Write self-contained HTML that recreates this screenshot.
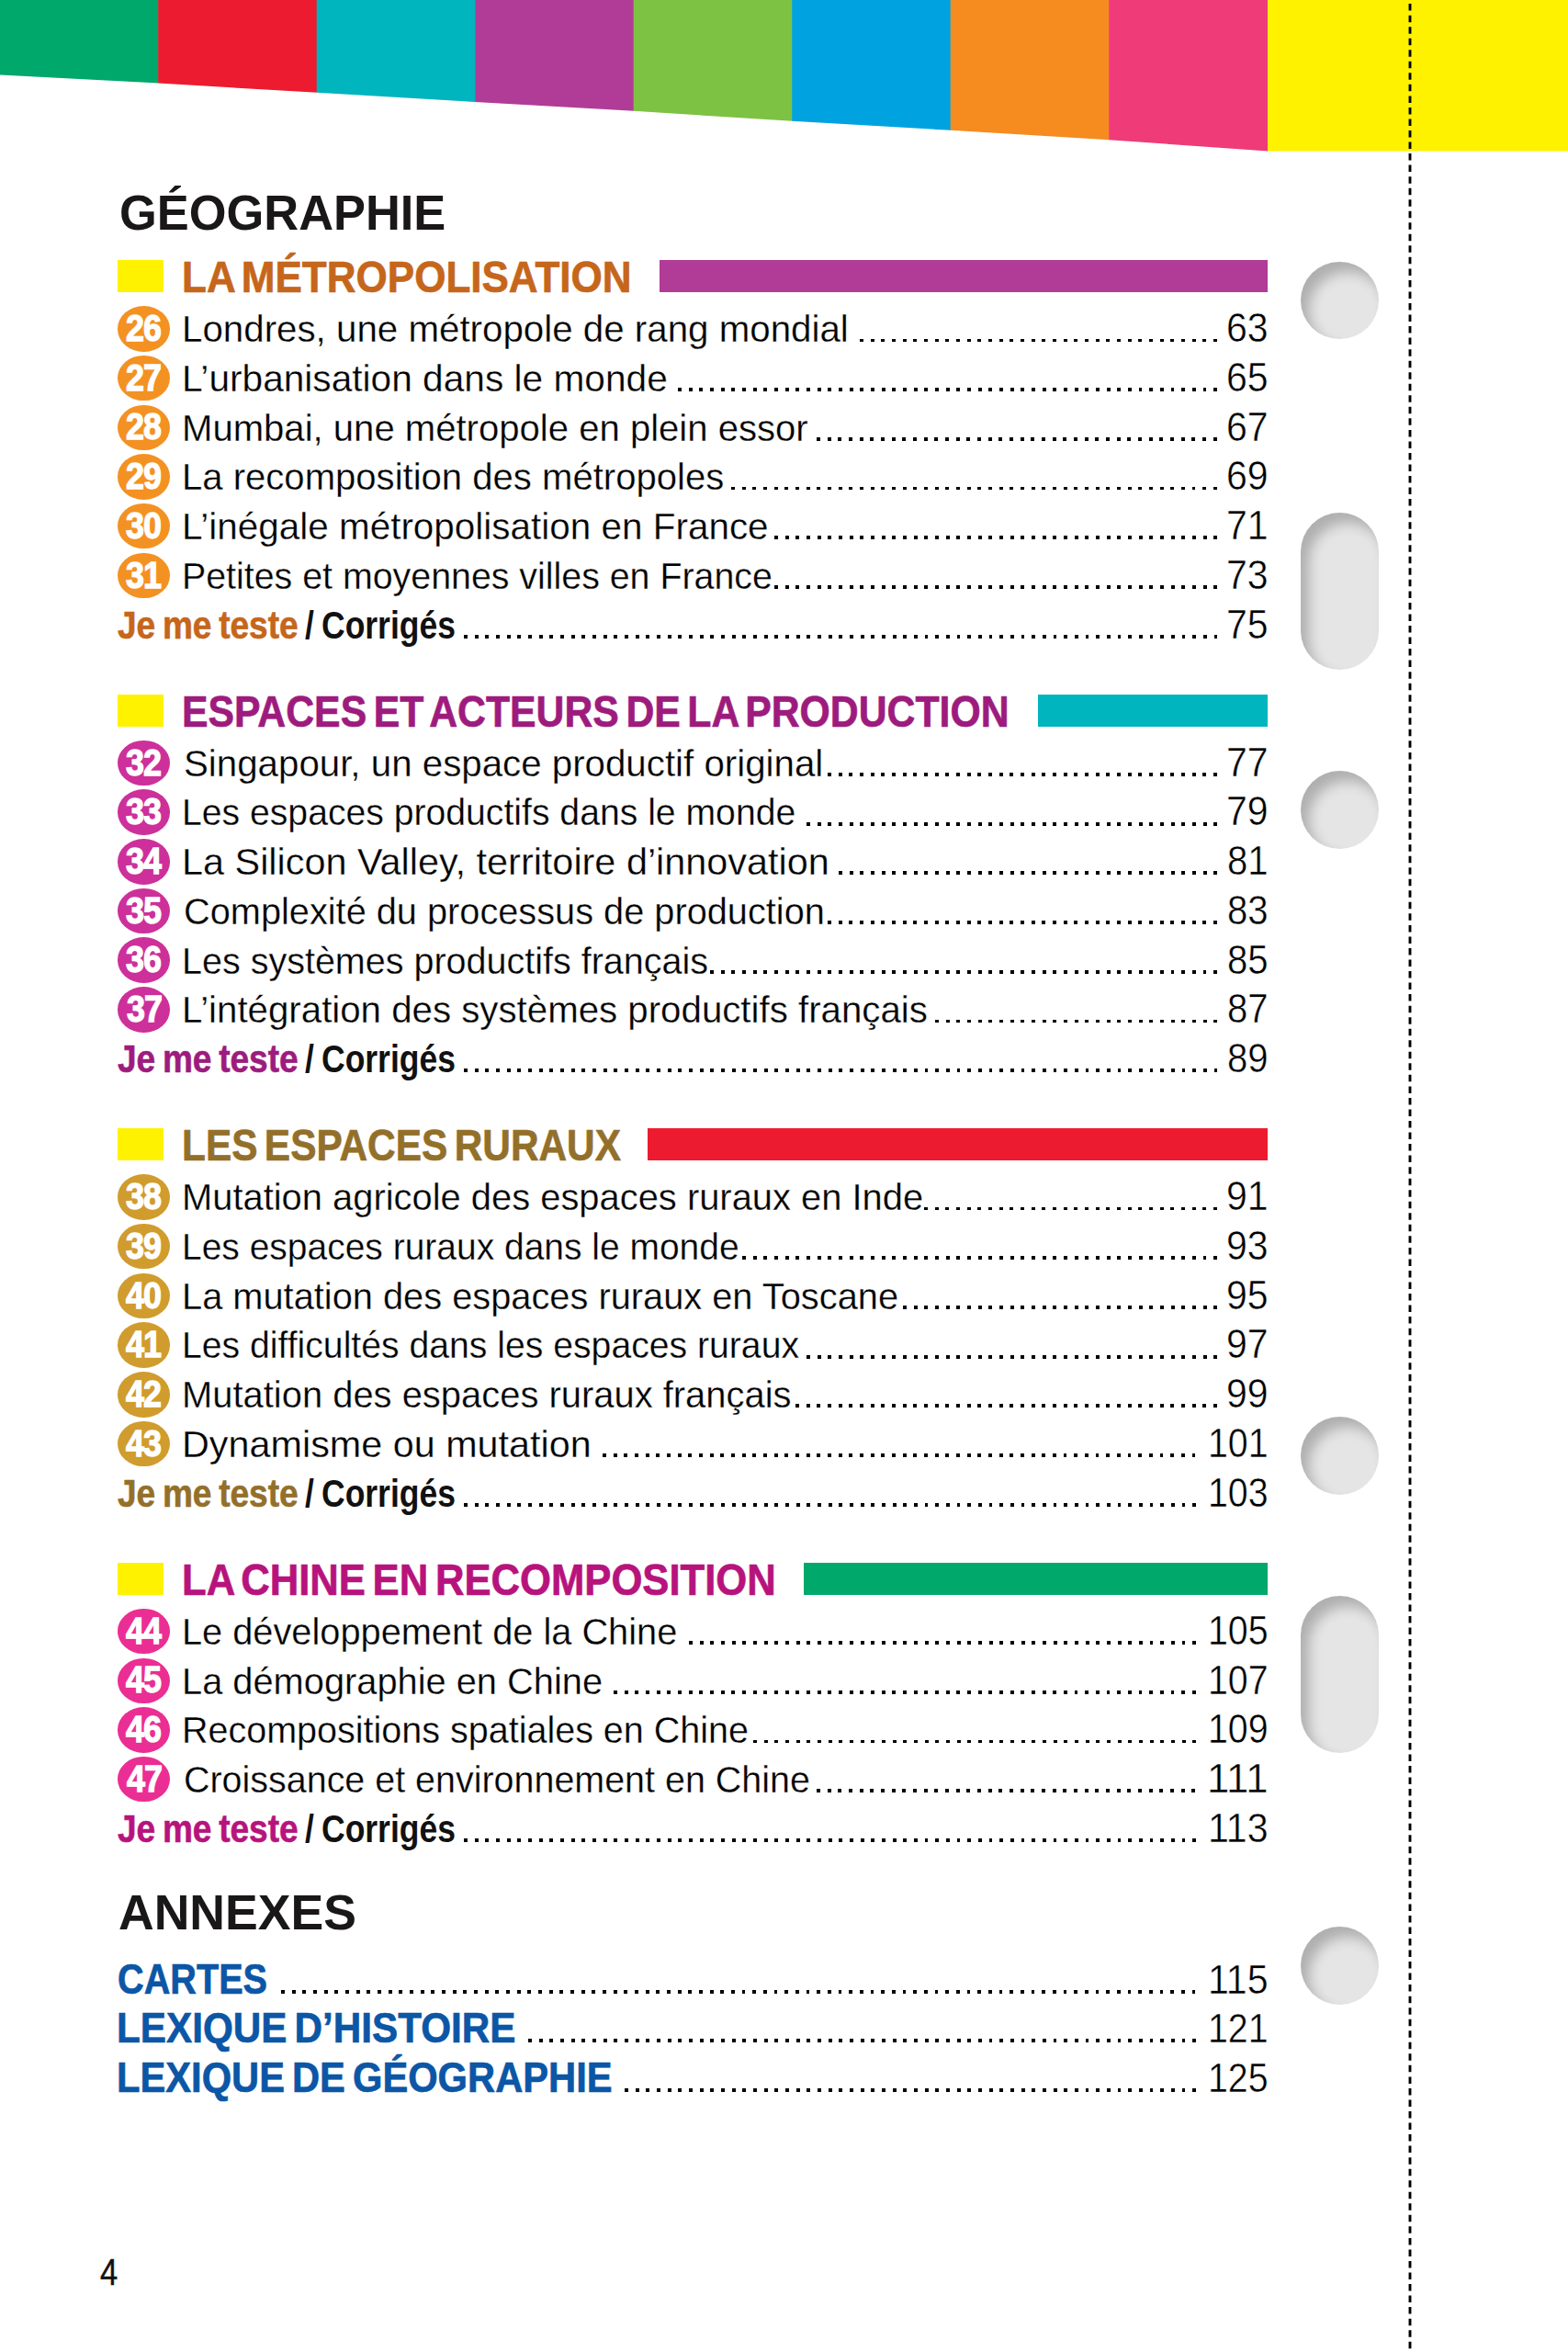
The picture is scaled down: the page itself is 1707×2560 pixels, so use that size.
<!DOCTYPE html><html lang="fr"><head><meta charset="utf-8"><title>Sommaire</title><style>
html,body{margin:0;padding:0;background:#fff;}
html{overflow:hidden;}
body{width:1707px;height:2560px;position:relative;overflow:hidden;font-family:"Liberation Sans",sans-serif;color:#000;}
.a{position:absolute;white-space:nowrap;line-height:1;}
.s{display:inline-block;transform-origin:0 0;}
.hole{position:absolute;left:1415.8px;width:84.8px;background:#e5e5e5;border-radius:42.4px;box-shadow:inset 9px 11px 14px rgba(0,0,0,0.24);}
.bar{position:absolute;height:35.3px;}
.ysq{position:absolute;left:128.3px;width:49.8px;height:35.3px;background:#fff200;}
.badge{position:absolute;left:128.2px;width:56.6px;height:49.5px;border-radius:50%;}
.dots{position:absolute;height:3.8px;background:repeating-linear-gradient(to right,#000 0,#000 3.9px,transparent 3.9px,transparent 11.665px);}
</style></head><body>
<svg class="a" style="left:0;top:0" width="1707" height="2560" viewBox="0 0 1707 2560"><polygon points="-0.3,0 172.8,0 172.8,90.60 -0.3,81.60" fill="#00a86b"/><polygon points="172.2,0 345.3,0 345.3,100.80 172.2,90.60" fill="#ed1b2f"/><polygon points="344.7,0 517.8,0 517.8,111.00 344.7,100.80" fill="#00b5be"/><polygon points="517.2,0 690.3,0 690.3,120.80 517.2,111.00" fill="#b13c97"/><polygon points="689.7,0 862.8,0 862.8,131.80 689.7,120.80" fill="#7dc243"/><polygon points="862.2,0 1035.3,0 1035.3,141.80 862.2,131.80" fill="#00a3e0"/><polygon points="1034.7,0 1207.8,0 1207.8,152.30 1034.7,141.80" fill="#f68b1f"/><polygon points="1207.2,0 1380.3,0 1380.3,164.50 1207.2,152.30" fill="#ef3b78"/><rect x="1380" y="0" width="327" height="164.5" fill="#fff200"/><line x1="1535" y1="4.1" x2="1535" y2="2560" stroke="#000" stroke-width="2.9" stroke-dasharray="7.5 5.035"/></svg>
<div class="hole" style="top:284.5px;height:84.8px"></div>
<div class="hole" style="top:558px;height:171px"></div>
<div class="hole" style="top:839px;height:84.8px"></div>
<div class="hole" style="top:1542px;height:84.8px"></div>
<div class="hole" style="top:1737px;height:171.3px"></div>
<div class="hole" style="top:2096.8px;height:84.8px"></div>
<div class="ysq" style="top:283.1px"></div>
<div class="bar" style="left:718.4px;top:283.1px;width:661.6px;background:#b13c97"></div>
<div class="ysq" style="top:755.6px"></div>
<div class="bar" style="left:1129.5px;top:755.6px;width:250.5px;background:#00b5be"></div>
<div class="ysq" style="top:1228.2px"></div>
<div class="bar" style="left:704.8px;top:1228.2px;width:675.2px;background:#ed1b2f"></div>
<div class="ysq" style="top:1700.8px"></div>
<div class="bar" style="left:875px;top:1700.8px;width:505.0px;background:#00a96b"></div>
<div class="badge" style="top:333.10px;background:#f39222"></div>
<div class="badge" style="top:386.82px;background:#f39222"></div>
<div class="badge" style="top:440.54px;background:#f39222"></div>
<div class="badge" style="top:494.26px;background:#f39222"></div>
<div class="badge" style="top:547.98px;background:#f39222"></div>
<div class="badge" style="top:601.70px;background:#f39222"></div>
<div class="badge" style="top:805.60px;background:#cd309a"></div>
<div class="badge" style="top:859.32px;background:#cd309a"></div>
<div class="badge" style="top:913.04px;background:#cd309a"></div>
<div class="badge" style="top:966.76px;background:#cd309a"></div>
<div class="badge" style="top:1020.48px;background:#cd309a"></div>
<div class="badge" style="top:1074.20px;background:#cd309a"></div>
<div class="badge" style="top:1278.20px;background:#d09c2e"></div>
<div class="badge" style="top:1331.92px;background:#d09c2e"></div>
<div class="badge" style="top:1385.64px;background:#d09c2e"></div>
<div class="badge" style="top:1439.36px;background:#d09c2e"></div>
<div class="badge" style="top:1493.08px;background:#d09c2e"></div>
<div class="badge" style="top:1546.80px;background:#d09c2e"></div>
<div class="badge" style="top:1750.80px;background:#eb2e93"></div>
<div class="badge" style="top:1804.52px;background:#eb2e93"></div>
<div class="badge" style="top:1858.24px;background:#eb2e93"></div>
<div class="badge" style="top:1911.96px;background:#eb2e93"></div>
<div class="dots" style="left:936.15px;top:368.50px;width:388.85px"></div>
<div class="dots" style="left:737.85px;top:422.22px;width:587.15px"></div>
<div class="dots" style="left:889.49px;top:475.94px;width:435.51px"></div>
<div class="dots" style="left:796.17px;top:529.66px;width:528.83px"></div>
<div class="dots" style="left:842.83px;top:583.38px;width:482.17px"></div>
<div class="dots" style="left:842.83px;top:637.10px;width:482.17px"></div>
<div class="dots" style="left:504.55px;top:690.82px;width:820.45px"></div>
<div class="dots" style="left:901.16px;top:841.00px;width:423.84px"></div>
<div class="dots" style="left:877.83px;top:894.72px;width:447.17px"></div>
<div class="dots" style="left:912.82px;top:948.44px;width:412.18px"></div>
<div class="dots" style="left:901.16px;top:1002.16px;width:423.84px"></div>
<div class="dots" style="left:772.84px;top:1055.88px;width:552.16px"></div>
<div class="dots" style="left:1017.81px;top:1109.60px;width:307.19px"></div>
<div class="dots" style="left:504.55px;top:1163.32px;width:820.45px"></div>
<div class="dots" style="left:1006.14px;top:1313.60px;width:318.86px"></div>
<div class="dots" style="left:807.84px;top:1367.32px;width:517.16px"></div>
<div class="dots" style="left:982.81px;top:1421.04px;width:342.19px"></div>
<div class="dots" style="left:877.83px;top:1474.76px;width:447.17px"></div>
<div class="dots" style="left:866.16px;top:1528.48px;width:458.84px"></div>
<div class="dots" style="left:656.19px;top:1582.20px;width:645.48px"></div>
<div class="dots" style="left:504.55px;top:1635.92px;width:797.12px"></div>
<div class="dots" style="left:749.51px;top:1786.20px;width:552.16px"></div>
<div class="dots" style="left:667.86px;top:1839.92px;width:633.81px"></div>
<div class="dots" style="left:819.50px;top:1893.64px;width:482.17px"></div>
<div class="dots" style="left:889.49px;top:1947.36px;width:412.18px"></div>
<div class="dots" style="left:504.55px;top:2001.08px;width:797.12px"></div>
<div class="dots" style="left:306.25px;top:2165.80px;width:995.43px"></div>
<div class="dots" style="left:574.54px;top:2219.00px;width:727.13px"></div>
<div class="dots" style="left:679.52px;top:2272.90px;width:622.15px"></div>
<div class="a" style="left:129.76px;top:204px;font-size:54px;font-weight:700;color:#1a1718;"><span class="s" style="transform:scaleX(0.9707)">GÉOGRAPHIE</span></div>
<div class="a" style="left:129.42px;top:2054px;font-size:54px;font-weight:700;color:#1a1718;"><span class="s" style="transform:scaleX(0.9918)">ANNEXES</span></div>
<div class="a" style="left:197.80px;top:277px;font-size:49px;font-weight:700;color:#c5661b;word-spacing:-5px;-webkit-text-stroke:0.7px currentColor;"><span class="s" style="transform:scaleX(0.8985)">LA MÉTROPOLISATION</span></div>
<div class="a" style="left:136.75px;top:337px;font-size:40px;font-weight:700;color:#fff;letter-spacing:-1px;-webkit-text-stroke:1.3px currentColor;"><span class="s" style="transform:scaleX(0.8976)">26</span></div>
<div class="a" style="left:197.67px;top:338px;font-size:41.0px;font-weight:400;color:#000;-webkit-text-stroke:0.3px #fff;"><span class="s" style="transform:scaleX(0.9828)">Londres, une métropole de rang mondial</span></div>
<div class="a" style="left:1335.27px;top:334px;font-size:45px;font-weight:400;color:#000;-webkit-text-stroke:0.5px #fff;"><span class="s" style="transform:scaleX(0.9111)">63</span></div>
<div class="a" style="left:137.20px;top:391px;font-size:40px;font-weight:700;color:#fff;letter-spacing:-1px;-webkit-text-stroke:1.3px currentColor;"><span class="s" style="transform:scaleX(0.8976)">27</span></div>
<div class="a" style="left:197.63px;top:392px;font-size:41.0px;font-weight:400;color:#000;-webkit-text-stroke:0.3px #fff;"><span class="s" style="transform:scaleX(0.9913)">L’urbanisation dans le monde</span></div>
<div class="a" style="left:1335.27px;top:388px;font-size:45px;font-weight:400;color:#000;-webkit-text-stroke:0.5px #fff;"><span class="s" style="transform:scaleX(0.9111)">65</span></div>
<div class="a" style="left:136.75px;top:444px;font-size:40px;font-weight:700;color:#fff;letter-spacing:-1px;-webkit-text-stroke:1.3px currentColor;"><span class="s" style="transform:scaleX(0.8976)">28</span></div>
<div class="a" style="left:197.69px;top:446px;font-size:41.0px;font-weight:400;color:#000;-webkit-text-stroke:0.3px #fff;"><span class="s" style="transform:scaleX(0.9775)">Mumbai, une métropole en plein essor</span></div>
<div class="a" style="left:1335.27px;top:442px;font-size:45px;font-weight:400;color:#000;-webkit-text-stroke:0.5px #fff;"><span class="s" style="transform:scaleX(0.9111)">67</span></div>
<div class="a" style="left:136.75px;top:498px;font-size:40px;font-weight:700;color:#fff;letter-spacing:-1px;-webkit-text-stroke:1.3px currentColor;"><span class="s" style="transform:scaleX(0.8976)">29</span></div>
<div class="a" style="left:197.69px;top:499px;font-size:41.0px;font-weight:400;color:#000;-webkit-text-stroke:0.3px #fff;"><span class="s" style="transform:scaleX(0.9773)">La recomposition des métropoles</span></div>
<div class="a" style="left:1335.27px;top:495px;font-size:45px;font-weight:400;color:#000;-webkit-text-stroke:0.5px #fff;"><span class="s" style="transform:scaleX(0.9111)">69</span></div>
<div class="a" style="left:137.20px;top:552px;font-size:40px;font-weight:700;color:#fff;letter-spacing:-1px;-webkit-text-stroke:1.3px currentColor;"><span class="s" style="transform:scaleX(0.8976)">30</span></div>
<div class="a" style="left:197.65px;top:553px;font-size:41.0px;font-weight:400;color:#000;-webkit-text-stroke:0.3px #fff;"><span class="s" style="transform:scaleX(0.9866)">L’inégale métropolisation en France</span></div>
<div class="a" style="left:1335.27px;top:549px;font-size:45px;font-weight:400;color:#000;-webkit-text-stroke:0.5px #fff;"><span class="s" style="transform:scaleX(0.9111)">71</span></div>
<div class="a" style="left:137.20px;top:606px;font-size:40px;font-weight:700;color:#fff;letter-spacing:-1px;-webkit-text-stroke:1.3px currentColor;"><span class="s" style="transform:scaleX(0.8976)">31</span></div>
<div class="a" style="left:197.76px;top:607px;font-size:41.0px;font-weight:400;color:#000;-webkit-text-stroke:0.3px #fff;"><span class="s" style="transform:scaleX(0.9595)">Petites et moyennes villes en France</span></div>
<div class="a" style="left:1335.27px;top:603px;font-size:45px;font-weight:400;color:#000;-webkit-text-stroke:0.5px #fff;"><span class="s" style="transform:scaleX(0.9111)">73</span></div>
<div class="a" style="left:127.82px;top:660px;font-size:42px;font-weight:700;color:#c5661b;word-spacing:-3px;-webkit-text-stroke:0.6px currentColor;"><span class="s" style="transform:scaleX(0.8828)">Je me teste</span></div>
<div class="a" style="left:332.46px;top:660px;font-size:42px;font-weight:700;color:#111;word-spacing:-2px;"><span class="s" style="transform:scaleX(0.8445)">/ Corrigés</span></div>
<div class="a" style="left:1335.27px;top:657px;font-size:45px;font-weight:400;color:#000;-webkit-text-stroke:0.5px #fff;"><span class="s" style="transform:scaleX(0.9111)">75</span></div>
<div class="a" style="left:197.88px;top:750px;font-size:49px;font-weight:700;color:#9e1b7e;word-spacing:-5px;-webkit-text-stroke:0.7px currentColor;"><span class="s" style="transform:scaleX(0.8725)">ESPACES ET ACTEURS DE LA PRODUCTION</span></div>
<div class="a" style="left:137.20px;top:810px;font-size:40px;font-weight:700;color:#fff;letter-spacing:-1px;-webkit-text-stroke:1.3px currentColor;"><span class="s" style="transform:scaleX(0.8976)">32</span></div>
<div class="a" style="left:199.64px;top:811px;font-size:41.0px;font-weight:400;color:#000;-webkit-text-stroke:0.3px #fff;"><span class="s" style="transform:scaleX(0.9822)">Singapour, un espace productif original</span></div>
<div class="a" style="left:1335.27px;top:807px;font-size:45px;font-weight:400;color:#000;-webkit-text-stroke:0.5px #fff;"><span class="s" style="transform:scaleX(0.9111)">77</span></div>
<div class="a" style="left:137.20px;top:863px;font-size:40px;font-weight:700;color:#fff;letter-spacing:-1px;-webkit-text-stroke:1.3px currentColor;"><span class="s" style="transform:scaleX(0.8976)">33</span></div>
<div class="a" style="left:197.78px;top:864px;font-size:41.0px;font-weight:400;color:#000;-webkit-text-stroke:0.3px #fff;"><span class="s" style="transform:scaleX(0.9550)">Les espaces productifs dans le monde</span></div>
<div class="a" style="left:1335.27px;top:860px;font-size:45px;font-weight:400;color:#000;-webkit-text-stroke:0.5px #fff;"><span class="s" style="transform:scaleX(0.9111)">79</span></div>
<div class="a" style="left:136.75px;top:917px;font-size:40px;font-weight:700;color:#fff;letter-spacing:-1px;-webkit-text-stroke:1.3px currentColor;"><span class="s" style="transform:scaleX(0.8976)">34</span></div>
<div class="a" style="left:197.56px;top:918px;font-size:41.0px;font-weight:400;color:#000;-webkit-text-stroke:0.3px #fff;"><span class="s" style="transform:scaleX(1.0096)">La Silicon Valley, territoire d’innovation</span></div>
<div class="a" style="left:1336.22px;top:914px;font-size:45px;font-weight:400;color:#000;-webkit-text-stroke:0.5px #fff;"><span class="s" style="transform:scaleX(0.8913)">81</span></div>
<div class="a" style="left:137.20px;top:971px;font-size:40px;font-weight:700;color:#fff;letter-spacing:-1px;-webkit-text-stroke:1.3px currentColor;"><span class="s" style="transform:scaleX(0.8976)">35</span></div>
<div class="a" style="left:199.66px;top:972px;font-size:41.0px;font-weight:400;color:#000;-webkit-text-stroke:0.3px #fff;"><span class="s" style="transform:scaleX(0.9690)">Complexité du processus de production</span></div>
<div class="a" style="left:1336.22px;top:968px;font-size:45px;font-weight:400;color:#000;-webkit-text-stroke:0.5px #fff;"><span class="s" style="transform:scaleX(0.8913)">83</span></div>
<div class="a" style="left:137.20px;top:1024px;font-size:40px;font-weight:700;color:#fff;letter-spacing:-1px;-webkit-text-stroke:1.3px currentColor;"><span class="s" style="transform:scaleX(0.8976)">36</span></div>
<div class="a" style="left:197.75px;top:1026px;font-size:41.0px;font-weight:400;color:#000;-webkit-text-stroke:0.3px #fff;"><span class="s" style="transform:scaleX(0.9635)">Les systèmes productifs français</span></div>
<div class="a" style="left:1336.22px;top:1022px;font-size:45px;font-weight:400;color:#000;-webkit-text-stroke:0.5px #fff;"><span class="s" style="transform:scaleX(0.8913)">85</span></div>
<div class="a" style="left:137.65px;top:1078px;font-size:40px;font-weight:700;color:#fff;letter-spacing:-1px;-webkit-text-stroke:1.3px currentColor;"><span class="s" style="transform:scaleX(0.8976)">37</span></div>
<div class="a" style="left:197.67px;top:1079px;font-size:41.0px;font-weight:400;color:#000;-webkit-text-stroke:0.3px #fff;"><span class="s" style="transform:scaleX(0.9814)">L’intégration des systèmes productifs français</span></div>
<div class="a" style="left:1336.22px;top:1075px;font-size:45px;font-weight:400;color:#000;-webkit-text-stroke:0.5px #fff;"><span class="s" style="transform:scaleX(0.8913)">87</span></div>
<div class="a" style="left:127.82px;top:1132px;font-size:42px;font-weight:700;color:#9e1b7e;word-spacing:-3px;-webkit-text-stroke:0.6px currentColor;"><span class="s" style="transform:scaleX(0.8828)">Je me teste</span></div>
<div class="a" style="left:332.46px;top:1132px;font-size:42px;font-weight:700;color:#111;word-spacing:-2px;"><span class="s" style="transform:scaleX(0.8445)">/ Corrigés</span></div>
<div class="a" style="left:1336.22px;top:1129px;font-size:45px;font-weight:400;color:#000;-webkit-text-stroke:0.5px #fff;"><span class="s" style="transform:scaleX(0.8913)">89</span></div>
<div class="a" style="left:197.91px;top:1222px;font-size:49px;font-weight:700;color:#93702a;word-spacing:-5px;-webkit-text-stroke:0.7px currentColor;"><span class="s" style="transform:scaleX(0.8648)">LES ESPACES RURAUX</span></div>
<div class="a" style="left:137.20px;top:1282px;font-size:40px;font-weight:700;color:#fff;letter-spacing:-1px;-webkit-text-stroke:1.3px currentColor;"><span class="s" style="transform:scaleX(0.8976)">38</span></div>
<div class="a" style="left:197.71px;top:1283px;font-size:41.0px;font-weight:400;color:#000;-webkit-text-stroke:0.3px #fff;"><span class="s" style="transform:scaleX(0.9729)">Mutation agricole des espaces ruraux en Inde</span></div>
<div class="a" style="left:1335.27px;top:1279px;font-size:45px;font-weight:400;color:#000;-webkit-text-stroke:0.5px #fff;"><span class="s" style="transform:scaleX(0.9111)">91</span></div>
<div class="a" style="left:137.20px;top:1336px;font-size:40px;font-weight:700;color:#fff;letter-spacing:-1px;-webkit-text-stroke:1.3px currentColor;"><span class="s" style="transform:scaleX(0.8976)">39</span></div>
<div class="a" style="left:197.80px;top:1337px;font-size:41.0px;font-weight:400;color:#000;-webkit-text-stroke:0.3px #fff;"><span class="s" style="transform:scaleX(0.9506)">Les espaces ruraux dans le monde</span></div>
<div class="a" style="left:1335.27px;top:1333px;font-size:45px;font-weight:400;color:#000;-webkit-text-stroke:0.5px #fff;"><span class="s" style="transform:scaleX(0.9111)">93</span></div>
<div class="a" style="left:137.20px;top:1390px;font-size:40px;font-weight:700;color:#fff;letter-spacing:-1px;-webkit-text-stroke:1.3px currentColor;"><span class="s" style="transform:scaleX(0.8976)">40</span></div>
<div class="a" style="left:197.72px;top:1391px;font-size:41.0px;font-weight:400;color:#000;-webkit-text-stroke:0.3px #fff;"><span class="s" style="transform:scaleX(0.9704)">La mutation des espaces ruraux en Toscane</span></div>
<div class="a" style="left:1335.27px;top:1387px;font-size:45px;font-weight:400;color:#000;-webkit-text-stroke:0.5px #fff;"><span class="s" style="transform:scaleX(0.9111)">95</span></div>
<div class="a" style="left:137.20px;top:1443px;font-size:40px;font-weight:700;color:#fff;letter-spacing:-1px;-webkit-text-stroke:1.3px currentColor;"><span class="s" style="transform:scaleX(0.8976)">41</span></div>
<div class="a" style="left:197.78px;top:1444px;font-size:41.0px;font-weight:400;color:#000;-webkit-text-stroke:0.3px #fff;"><span class="s" style="transform:scaleX(0.9553)">Les difficultés dans les espaces ruraux</span></div>
<div class="a" style="left:1335.27px;top:1440px;font-size:45px;font-weight:400;color:#000;-webkit-text-stroke:0.5px #fff;"><span class="s" style="transform:scaleX(0.9111)">97</span></div>
<div class="a" style="left:137.20px;top:1497px;font-size:40px;font-weight:700;color:#fff;letter-spacing:-1px;-webkit-text-stroke:1.3px currentColor;"><span class="s" style="transform:scaleX(0.8976)">42</span></div>
<div class="a" style="left:197.71px;top:1498px;font-size:41.0px;font-weight:400;color:#000;-webkit-text-stroke:0.3px #fff;"><span class="s" style="transform:scaleX(0.9737)">Mutation des espaces ruraux français</span></div>
<div class="a" style="left:1335.27px;top:1494px;font-size:45px;font-weight:400;color:#000;-webkit-text-stroke:0.5px #fff;"><span class="s" style="transform:scaleX(0.9111)">99</span></div>
<div class="a" style="left:137.20px;top:1551px;font-size:40px;font-weight:700;color:#fff;letter-spacing:-1px;-webkit-text-stroke:1.3px currentColor;"><span class="s" style="transform:scaleX(0.8976)">43</span></div>
<div class="a" style="left:197.57px;top:1552px;font-size:41.0px;font-weight:400;color:#000;-webkit-text-stroke:0.3px #fff;"><span class="s" style="transform:scaleX(1.0083)">Dynamisme ou mutation</span></div>
<div class="a" style="left:1314.70px;top:1548px;font-size:45px;font-weight:400;color:#000;-webkit-text-stroke:0.5px #fff;"><span class="s" style="transform:scaleX(0.8739)">101</span></div>
<div class="a" style="left:127.82px;top:1605px;font-size:42px;font-weight:700;color:#93702a;word-spacing:-3px;-webkit-text-stroke:0.6px currentColor;"><span class="s" style="transform:scaleX(0.8828)">Je me teste</span></div>
<div class="a" style="left:332.46px;top:1605px;font-size:42px;font-weight:700;color:#111;word-spacing:-2px;"><span class="s" style="transform:scaleX(0.8445)">/ Corrigés</span></div>
<div class="a" style="left:1314.70px;top:1602px;font-size:45px;font-weight:400;color:#000;-webkit-text-stroke:0.5px #fff;"><span class="s" style="transform:scaleX(0.8739)">103</span></div>
<div class="a" style="left:197.83px;top:1695px;font-size:49px;font-weight:700;color:#b7137d;word-spacing:-5px;-webkit-text-stroke:0.7px currentColor;"><span class="s" style="transform:scaleX(0.8904)">LA CHINE EN RECOMPOSITION</span></div>
<div class="a" style="left:136.75px;top:1755px;font-size:40px;font-weight:700;color:#fff;letter-spacing:-1px;-webkit-text-stroke:1.3px currentColor;"><span class="s" style="transform:scaleX(0.8976)">44</span></div>
<div class="a" style="left:197.72px;top:1756px;font-size:41.0px;font-weight:400;color:#000;-webkit-text-stroke:0.3px #fff;"><span class="s" style="transform:scaleX(0.9696)">Le développement de la Chine</span></div>
<div class="a" style="left:1314.70px;top:1752px;font-size:45px;font-weight:400;color:#000;-webkit-text-stroke:0.5px #fff;"><span class="s" style="transform:scaleX(0.8739)">105</span></div>
<div class="a" style="left:137.20px;top:1808px;font-size:40px;font-weight:700;color:#fff;letter-spacing:-1px;-webkit-text-stroke:1.3px currentColor;"><span class="s" style="transform:scaleX(0.8976)">45</span></div>
<div class="a" style="left:197.72px;top:1810px;font-size:41.0px;font-weight:400;color:#000;-webkit-text-stroke:0.3px #fff;"><span class="s" style="transform:scaleX(0.9708)">La démographie en Chine</span></div>
<div class="a" style="left:1314.70px;top:1806px;font-size:45px;font-weight:400;color:#000;-webkit-text-stroke:0.5px #fff;"><span class="s" style="transform:scaleX(0.8739)">107</span></div>
<div class="a" style="left:137.20px;top:1862px;font-size:40px;font-weight:700;color:#fff;letter-spacing:-1px;-webkit-text-stroke:1.3px currentColor;"><span class="s" style="transform:scaleX(0.8976)">46</span></div>
<div class="a" style="left:197.75px;top:1863px;font-size:41.0px;font-weight:400;color:#000;-webkit-text-stroke:0.3px #fff;"><span class="s" style="transform:scaleX(0.9634)">Recompositions spatiales en Chine</span></div>
<div class="a" style="left:1314.70px;top:1859px;font-size:45px;font-weight:400;color:#000;-webkit-text-stroke:0.5px #fff;"><span class="s" style="transform:scaleX(0.8739)">109</span></div>
<div class="a" style="left:137.65px;top:1916px;font-size:40px;font-weight:700;color:#fff;letter-spacing:-1px;-webkit-text-stroke:1.3px currentColor;"><span class="s" style="transform:scaleX(0.8976)">47</span></div>
<div class="a" style="left:199.68px;top:1917px;font-size:41.0px;font-weight:400;color:#000;-webkit-text-stroke:0.3px #fff;"><span class="s" style="transform:scaleX(0.9620)">Croissance et environnement en Chine</span></div>
<div class="a" style="left:1314.31px;top:1913px;font-size:45px;font-weight:400;color:#000;-webkit-text-stroke:0.5px #fff;"><span class="s" style="transform:scaleX(0.9726)">111</span></div>
<div class="a" style="left:127.82px;top:1970px;font-size:42px;font-weight:700;color:#b7137d;word-spacing:-3px;-webkit-text-stroke:0.6px currentColor;"><span class="s" style="transform:scaleX(0.8828)">Je me teste</span></div>
<div class="a" style="left:332.46px;top:1970px;font-size:42px;font-weight:700;color:#111;word-spacing:-2px;"><span class="s" style="transform:scaleX(0.8445)">/ Corrigés</span></div>
<div class="a" style="left:1314.55px;top:1967px;font-size:45px;font-weight:400;color:#000;-webkit-text-stroke:0.5px #fff;"><span class="s" style="transform:scaleX(0.9136)">113</span></div>
<div class="a" style="left:128.21px;top:2130px;font-size:47px;font-weight:700;color:#0c56a6;word-spacing:-4px;-webkit-text-stroke:0.7px currentColor;"><span class="s" style="transform:scaleX(0.8437)">CARTES</span></div>
<div class="a" style="left:1314.55px;top:2132px;font-size:45px;font-weight:400;color:#000;-webkit-text-stroke:0.5px #fff;"><span class="s" style="transform:scaleX(0.9136)">115</span></div>
<div class="a" style="left:127.20px;top:2183px;font-size:47px;font-weight:700;color:#0c56a6;word-spacing:-4px;-webkit-text-stroke:0.7px currentColor;"><span class="s" style="transform:scaleX(0.8987)">LEXIQUE D’HISTOIRE</span></div>
<div class="a" style="left:1314.70px;top:2185px;font-size:45px;font-weight:400;color:#000;-webkit-text-stroke:0.5px #fff;"><span class="s" style="transform:scaleX(0.8739)">121</span></div>
<div class="a" style="left:127.24px;top:2237px;font-size:47px;font-weight:700;color:#0c56a6;word-spacing:-4px;-webkit-text-stroke:0.7px currentColor;"><span class="s" style="transform:scaleX(0.8869)">LEXIQUE DE GÉOGRAPHIE</span></div>
<div class="a" style="left:1314.70px;top:2239px;font-size:45px;font-weight:400;color:#000;-webkit-text-stroke:0.5px #fff;"><span class="s" style="transform:scaleX(0.8739)">125</span></div>
<div class="a" style="left:108.94px;top:2453px;font-size:40px;font-weight:400;color:#111;-webkit-text-stroke:0.5px currentColor;"><span class="s" style="transform:scaleX(0.8600)">4</span></div>
</body></html>
